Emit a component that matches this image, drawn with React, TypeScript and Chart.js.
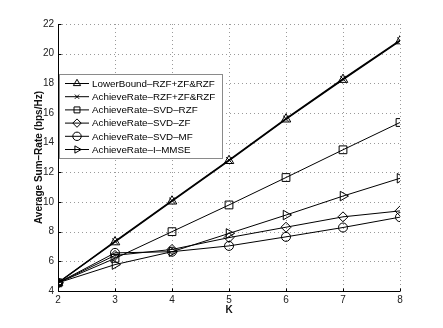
import React, { useEffect, useRef } from 'react';
import { Chart, registerables } from 'chart.js';
import { drawPoint } from 'chart.js/helpers';

Chart.register(...registerables);

const kValues = [2, 3, 4, 5, 6, 7, 8];
const lowerBound = [4.55, 7.3, 10.05, 12.78, 15.58, 18.25, 20.85];
const achieveRzfZf = [4.55, 7.35, 10.1, 12.83, 15.62, 18.3, 20.9];
const svdRzf = [4.55, 6.2, 8.0, 9.8, 11.65, 13.52, 15.36];
const svdZf = [4.55, 6.4, 6.8, 7.6, 8.3, 9.0, 9.4];
const svdMf = [4.55, 6.57, 6.65, 7.04, 7.65, 8.28, 8.98];
const iMmse = [4.55, 5.78, 6.65, 7.88, 9.12, 10.4, 11.6];

const seriesLabels = [
  'LowerBound–RZF+ZF&RZF',
  'AchieveRate–RZF+ZF&RZF',
  'AchieveRate–SVD–RZF',
  'AchieveRate–SVD–ZF',
  'AchieveRate–SVD–MF',
  'AchieveRate–I–MMSE',
];
const seriesValues = [lowerBound, achieveRzfZf, svdRzf, svdZf, svdMf, iMmse];
const seriesMarkers = ['triangle', 'crossRot', 'rect', 'rectRot', 'circle', 'triangle'];
const seriesRotations = [0, 0, 0, 0, 0, 90];
const seriesRadius = [5.5, 4, 5.5, 5, 4.5, 5.5];
const seriesWidths = [1.3, 1.3, 1, 1, 1, 1];

const xTitle = 'K';
const yTitle = 'Average Sum–Rate (bps/Hz)';

const dottedGridPlugin = {
  id: 'dottedGrid',
  beforeDatasetsDraw(chart: any) {
    const ctx = chart.ctx;
    const { left, right, top, bottom } = chart.chartArea;
    const xs = chart.scales.x;
    const ys = chart.scales.y;
    ctx.save();
    ctx.strokeStyle = '#9a9a9a';
    ctx.lineWidth = 1;
    ctx.setLineDash([1, 3]);
    xs.ticks.forEach((t: any) => {
      const px = Math.round(xs.getPixelForValue(t.value)) + 0.5;
      ctx.beginPath();
      ctx.moveTo(px, top);
      ctx.lineTo(px, bottom);
      ctx.stroke();
    });
    ys.ticks.forEach((t: any) => {
      const py = Math.round(ys.getPixelForValue(t.value)) + 0.5;
      ctx.beginPath();
      ctx.moveTo(left, py);
      ctx.lineTo(right, py);
      ctx.stroke();
    });
    ctx.setLineDash([]);
    ctx.strokeStyle = '#000';
    const bx = Math.round(left) + 0.5;
    const by = Math.round(bottom) + 0.5;
    ctx.beginPath();
    ctx.moveTo(bx, top);
    ctx.lineTo(bx, by);
    ctx.lineTo(right, by);
    ctx.stroke();
    xs.ticks.forEach((t: any) => {
      const px = Math.round(xs.getPixelForValue(t.value)) + 0.5;
      ctx.beginPath();
      ctx.moveTo(px, by);
      ctx.lineTo(px, by - 3);
      ctx.stroke();
    });
    ys.ticks.forEach((t: any) => {
      const py = Math.round(ys.getPixelForValue(t.value)) + 0.5;
      ctx.beginPath();
      ctx.moveTo(bx, py);
      ctx.lineTo(bx + 3, py);
      ctx.stroke();
    });
    ctx.restore();
  },
};

const legendPlugin = {
  id: 'insideLegend',
  afterDraw(chart: any) {
    const ctx = chart.ctx;
    const x0 = 59, y0 = 74, w = 163, h = 84;
    ctx.save();
    ctx.fillStyle = '#ffffff';
    ctx.fillRect(x0, y0, w, h);
    ctx.strokeStyle = '#8a8a8a';
    ctx.lineWidth = 1;
    ctx.strokeRect(x0 + 0.5, y0 + 0.5, w, h);
    ctx.font = '9.8px "Liberation Sans", Arial, sans-serif';
    ctx.textBaseline = 'middle';
    ctx.textAlign = 'left';
    chart.data.datasets.forEach((ds: any, i: number) => {
      const cy = y0 + 9.5 + i * 13.2;
      ctx.strokeStyle = '#000';
      ctx.lineWidth = 1;
      ctx.setLineDash([]);
      ctx.beginPath();
      ctx.moveTo(x0 + 6, cy);
      ctx.lineTo(x0 + 30, cy);
      ctx.stroke();
      ctx.fillStyle = 'rgba(0,0,0,0)';
      drawPoint(ctx, {
        pointStyle: ds.pointStyle,
        rotation: ds.pointRotation,
        radius: ds.pointStyle === 'crossRot' ? 3 : 4.2,
        borderWidth: 1,
      } as any, x0 + 18, cy);
      ctx.fillStyle = '#000';
      ctx.fillText(ds.label, x0 + 33, cy + 0.5);
    });
    ctx.restore();
  },
};

export default function App() {
  const ref = useRef<HTMLCanvasElement>(null);
  useEffect(() => {
    if (!ref.current) return;
    const chart = new Chart(ref.current, {
      type: 'line',
      data: {
        datasets: seriesLabels.map((label, i) => ({
          label,
          data: kValues.map((k, j) => ({ x: k, y: seriesValues[i][j] })),
          borderColor: '#000',
          backgroundColor: 'rgba(0,0,0,0)',
          borderWidth: seriesWidths[i],
          pointStyle: seriesMarkers[i] as any,
          pointRotation: seriesRotations[i],
          pointRadius: seriesRadius[i],
          pointBorderColor: '#000',
          pointBackgroundColor: 'rgba(0,0,0,0)',
          pointBorderWidth: 1,
          tension: 0,
          fill: false,
        })),
      },
      options: {
        responsive: false,
        animation: false,
        layout: { padding: { top: 24, right: 43, left: 33, bottom: 0 } },
        plugins: { legend: { display: false }, tooltip: { enabled: false } },
        scales: {
          x: {
            type: 'linear',
            min: 2,
            max: 8,
            afterFit: (s: any) => { s.height = 37; },
            ticks: {
              stepSize: 1,
              padding: 3,
              color: '#222',
              font: { family: '"Liberation Sans", Arial, sans-serif', size: 10 },
            },
            grid: { display: false, drawTicks: false },
            border: { display: false },
            title: {
              display: true,
              text: xTitle,
              color: '#111',
              padding: { top: 0, bottom: 12 },
              font: { family: '"Liberation Sans", Arial, sans-serif', size: 10, weight: 'bold' },
            },
          },
          y: {
            type: 'linear',
            min: 4,
            max: 22,
            afterFit: (s: any) => { s.width = 25; },
            ticks: {
              stepSize: 2,
              padding: 4,
              color: '#222',
              font: { family: '"Liberation Sans", Arial, sans-serif', size: 10 },
            },
            grid: { display: false, drawTicks: false },
            border: { display: false },
            title: {
              display: true,
              text: yTitle,
              color: '#111',
              padding: { top: 0, bottom: 0 },
              font: { family: '"Liberation Sans", Arial, sans-serif', size: 10, weight: 'bold' },
            },
          },
        },
      },
      plugins: [dottedGridPlugin, legendPlugin],
    });
    return () => chart.destroy();
  }, []);
  return (
    <div style={{ position: 'absolute', left: 0, top: 0, width: 443, height: 328, background: '#fff' }}>
      <canvas ref={ref} width={443} height={328} style={{ width: 443, height: 328 }} />
    </div>
  );
}
